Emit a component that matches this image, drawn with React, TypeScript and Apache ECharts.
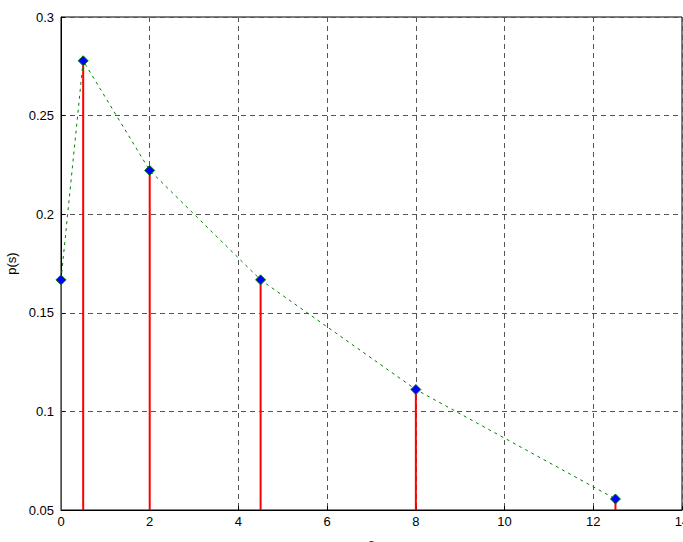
import React, { useEffect, useRef } from "react";
import * as echarts from "echarts";

const sValues = [0, 0.5, 2, 4.5, 8, 12.5];
const pValues = [0.1667, 0.2778, 0.2222, 0.1667, 0.1111, 0.0556];
const xTicks = [0, 2, 4, 6, 8, 10, 12, 14];
const yTicks = [0.05, 0.1, 0.15, 0.2, 0.25, 0.3];

export default function App() {
  const ref = useRef<HTMLDivElement>(null);
  useEffect(() => {
    const chart = echarts.init(ref.current!, null, { renderer: "svg" });
    const pts = sValues.map((s, i) => [s, pValues[i]]);
    const font = "'Liberation Sans', Arial, sans-serif";
    chart.setOption({
      animation: false,
      backgroundColor: "#fff",
      grid: {
        left: 61,
        right: 1,
        top: 17,
        bottom: 32,
        show: true,
        borderColor: "#000",
        borderWidth: 1,
        containLabel: false,
        outerBoundsMode: "none",
      },
      xAxis: {
        type: "value",
        min: xTicks[0],
        max: xTicks[xTicks.length - 1],
        interval: 2,
        name: "s",
        nameLocation: "middle",
        nameGap: 27,
        nameTextStyle: { color: "#000", fontSize: 13, fontFamily: font },
        axisLine: { show: true, lineStyle: { color: "#000", width: 1 } },
        axisTick: { show: true, inside: true, length: 4, lineStyle: { color: "#000" } },
        axisLabel: { color: "#000", fontSize: 13, fontFamily: font, margin: 5 },
        splitLine: { show: true, lineStyle: { color: "#555", type: [5, 4], width: 1 } },
      },
      yAxis: {
        type: "value",
        min: yTicks[0],
        max: yTicks[yTicks.length - 1],
        interval: 0.05,
        name: "p(s)",
        nameLocation: "middle",
        nameGap: 40,
        nameRotate: 90,
        nameTextStyle: { color: "#000", fontSize: 13, fontFamily: font },
        axisLine: { show: true, lineStyle: { color: "#000", width: 1 } },
        axisTick: { show: true, inside: true, length: 4, lineStyle: { color: "#000" } },
        axisLabel: {
          color: "#000",
          fontSize: 13,
          fontFamily: font,
          margin: 7,
          formatter: (v: number) => String(parseFloat(v.toFixed(2))),
        },
        splitLine: { show: true, lineStyle: { color: "#555", type: [5, 4], width: 1 } },
      },
      series: [
        {
          type: "custom",
          clip: true,
          z: 2,
          data: pts,
          renderItem: (params: any, api: any) => {
            const x = api.value(0);
            const y = api.value(1);
            const p0 = api.coord([x, yTicks[0]]);
            const p1 = api.coord([x, y]);
            return {
              type: "line",
              shape: { x1: p0[0], y1: p0[1], x2: p1[0], y2: p1[1] },
              style: { stroke: "#ff0000", lineWidth: 2 },
            };
          },
        },
        {
          type: "line",
          data: pts,
          smooth: false,
          z: 3,
          lineStyle: { color: "#008000", width: 1, type: [3, 4] },
          symbol: "diamond",
          symbolSize: 10,
          itemStyle: { color: "#0000ff", borderColor: "#008000", borderWidth: 1 },
        },
      ],
    });
    return () => chart.dispose();
  }, []);
  return (
    <div
      ref={ref}
      style={{ position: "fixed", left: 0, top: 0, width: 683, height: 542 }}
    />
  );
}
